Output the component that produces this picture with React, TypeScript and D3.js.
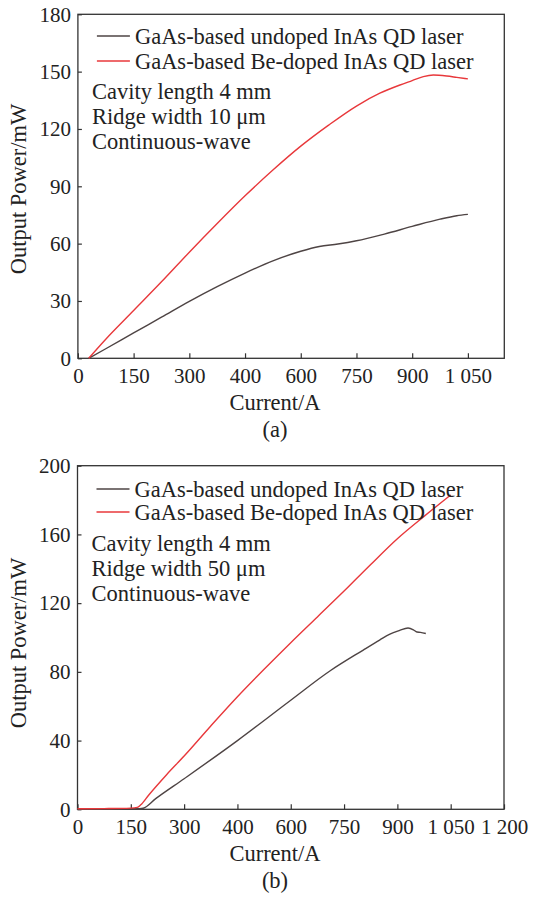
import { useEffect, useRef } from 'react';
import * as d3 from 'd3';

// ---- data (current in A, power in mW) ----
const LEGEND = ['GaAs-based undoped InAs QD laser', 'GaAs-based Be-doped InAs QD laser'];

const topXTicks = [0, 150, 300, 450, 600, 750, 900, 1050];
const topXLabels = ['0', '150', '300', '400', '600', '750', '900', '1 050'];
const topYTicks = [0, 30, 60, 90, 120, 150, 180];
const topNotes = ['Cavity length 4 mm', 'Ridge width 10 μm', 'Continuous-wave'];

const topUndoped: [number, number][] = [
  [29, 0], [75, 5], [150, 13.3], [225, 21.5], [300, 29.8], [375, 37.5], [450, 44.6],
  [525, 51], [600, 56], [650, 58.5], [700, 59.8], [750, 61.5], [825, 65], [900, 69],
  [975, 72.8], [1020, 74.6], [1050, 75.3],
];
const topBeDoped: [number, number][] = [
  [29, 0], [75, 10], [150, 25], [225, 40], [300, 55.5], [375, 70.5], [450, 85],
  [525, 98.5], [600, 111], [675, 122], [750, 132], [813, 138.7], [867, 143], [900, 145.3],
  [930, 147.4], [957, 148.2], [993, 147.7], [1020, 147], [1050, 146.2],
];

const botXTicks = [0, 150, 300, 450, 600, 750, 900, 1050, 1200];
const botXLabels = ['0', '150', '300', '400', '600', '750', '900', '1 050', '1 200'];
const botYTicks = [0, 40, 80, 120, 160, 200];
const botNotes = ['Cavity length 4 mm', 'Ridge width 50 μm', 'Continuous-wave'];

const botUndoped: [number, number][] = [
  [0, 0], [50, 0], [100, 0.2], [150, 0.3], [175, 0.3], [185, 0.6], [220, 6.2], [300, 17.8],
  [450, 40], [600, 63.5], [710, 80.5], [804, 92.7], [850, 98.5], [879, 102], [905, 104],
  [930, 105.5], [945, 104.5], [955, 103.2], [965, 103], [980, 102.3],
];
const botBeDoped: [number, number][] = [
  [0, 0.3], [75, 0.4], [150, 0.7], [168, 1.1], [178, 2.6], [200, 8.2], [250, 20], [300, 31],
  [375, 48.5], [450, 65.5], [525, 81.5], [600, 97], [675, 112], [750, 127], [825, 142.5],
  [900, 157.5], [975, 170.5], [1050, 183],
];

const COLORS = ['#4e4444', '#e8383b'];
const FONT = 'Liberation Serif';

interface PanelCfg {
  left: number; right: number; top: number; bottom: number;
  xMax: number; yMax: number;
  xTicks: number[]; xLabels: string[]; yTicks: number[];
  series: [number, number][][];
  notes: string[];
  legendY: number[];
  noteY: number;
  caption: string;
  yTitleY: number;
}

function drawPanel(root: d3.Selection<SVGGElement, unknown, null, undefined>, c: PanelCfg) {
  const x = d3.scaleLinear().domain([0, c.xMax]).range([c.left, c.right]);
  const y = d3.scaleLinear().domain([0, c.yMax]).range([c.bottom, c.top]);

  const xAxis = root.append('g')
    .attr('transform', `translate(0,${c.bottom})`)
    .call(d3.axisBottom(x).tickValues(c.xTicks)
      .tickFormat((_d, i) => c.xLabels[i]).tickSize(-5).tickPadding(10));
  const yAxis = root.append('g')
    .attr('transform', `translate(${c.left},0)`)
    .call(d3.axisLeft(y).tickValues(c.yTicks).tickSize(-4).tickPadding(7));

  [xAxis, yAxis].forEach(a => {
    a.attr('font-family', FONT).attr('font-size', 21);
    a.select('.domain').remove();
    a.selectAll('line').attr('stroke', '#333').attr('stroke-width', 1.2);
    a.selectAll('text').attr('fill', '#222');
  });

  root.append('rect')
    .attr('x', c.left).attr('y', c.top)
    .attr('width', c.right - c.left).attr('height', c.bottom - c.top)
    .attr('fill', 'none').attr('stroke', '#333').attr('stroke-width', 1.3);

  const line = d3.line<[number, number]>()
    .x(d => x(d[0]))
    .y(d => y(d[1]))
    .curve(d3.curveMonotoneX);

  c.series.forEach((s, i) => {
    root.append('path')
      .datum(s)
      .attr('d', line)
      .attr('fill', 'none')
      .attr('stroke', COLORS[i])
      .attr('stroke-width', 1.4);
  });

  const label = root.append('g')
    .attr('font-family', FONT)
    .attr('font-size', 22.5)
    .attr('fill', '#222');

  // legend
  LEGEND.forEach((name, i) => {
    const ly = c.legendY[i];
    root.append('line')
      .attr('x1', c.left + 19).attr('x2', c.left + 52)
      .attr('y1', ly).attr('y2', ly)
      .attr('stroke', COLORS[i]).attr('stroke-width', 1.4);
    label.append('text')
      .attr('x', c.left + 57).attr('y', ly + 7.5)
      .text(name);
  });

  c.notes.forEach((n, i) => {
    label.append('text')
      .attr('x', c.left + 14).attr('y', c.noteY + i * 25)
      .text(n);
  });

  label.append('text')
    .attr('transform', `translate(25.5,${c.yTitleY}) rotate(-90)`)
    .attr('text-anchor', 'middle')
    .text('Output Power/mW');

  label.append('text')
    .attr('x', 275).attr('y', c.bottom + 52)
    .attr('text-anchor', 'middle')
    .text('Current/A');

  label.append('text')
    .attr('x', 275).attr('y', c.bottom + 79)
    .attr('text-anchor', 'middle')
    .text(c.caption);
}

const App: React.FC = () => {
  const svgRef = useRef<SVGSVGElement>(null);

  useEffect(() => {
    if (!svgRef.current) return;
    const svg = d3.select(svgRef.current);
    svg.selectAll('*').remove();

    drawPanel(svg.append('g'), {
      left: 77.9, right: 504.3, top: 14.3, bottom: 358.3,
      xMax: 1148, yMax: 180,
      xTicks: topXTicks, xLabels: topXLabels, yTicks: topYTicks,
      series: [topUndoped, topBeDoped],
      notes: topNotes,
      legendY: [36, 61],
      noteY: 99,
      caption: '(a)',
      yTitleY: 189,
    });

    drawPanel(svg.append('g'), {
      left: 77.5, right: 504, top: 465.7, bottom: 809.3,
      xMax: 1200, yMax: 200,
      xTicks: botXTicks, xLabels: botXLabels, yTicks: botYTicks,
      series: [botUndoped, botBeDoped],
      notes: botNotes,
      legendY: [489, 512],
      noteY: 550.5,
      caption: '(b)',
      yTitleY: 643,
    });
  }, []);

  return (
    <svg
      ref={svgRef}
      width={536}
      height={900}
      style={{ position: 'absolute', left: 0, top: 0, background: '#fff' }}
    />
  );
};

export default App;
